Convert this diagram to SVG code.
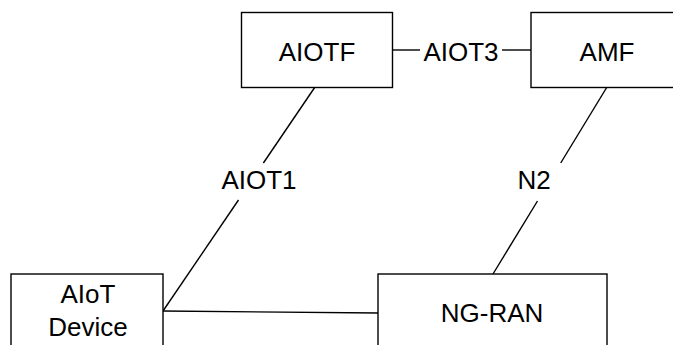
<svg xmlns="http://www.w3.org/2000/svg" width="673" height="345" viewBox="0 0 673 345">
<style>
.box{fill:#fff;stroke:#000;stroke-width:1.4}
.ln{stroke:#000;stroke-width:1.4;fill:none}
.t{font-family:"Liberation Sans",Arial,sans-serif;font-size:26px;fill:#000;text-anchor:middle}
</style>
<rect width="673" height="345" fill="#fff"/>
<g id="connectors">
<line class="ln" x1="392" y1="50" x2="420" y2="50"/>
<line class="ln" x1="502" y1="50" x2="531" y2="50"/>
<text class="t" x="461" y="61">AIOT3</text>
<line class="ln" x1="315" y1="87" x2="263.4" y2="163"/>
<line class="ln" x1="238.5" y1="200" x2="163" y2="311"/>
<text class="t" x="259" y="189">AIOT1</text>
<line class="ln" x1="607" y1="87" x2="560.7" y2="163"/>
<line class="ln" x1="537.5" y1="201" x2="493" y2="274"/>
<text class="t" x="534" y="189">N2</text>
<line class="ln" x1="163" y1="311" x2="378" y2="313"/>
</g>
<g id="aiotf">
<rect class="box" x="241.5" y="12.5" width="151" height="75"/>
<text class="t" x="317" y="61">AIOTF</text>
</g>
<g id="amf">
<rect class="box" x="531" y="12.5" width="160" height="75"/>
<text class="t" x="607" y="61">AMF</text>
</g>
<g id="aiot-device">
<rect class="box" x="11" y="274" width="152" height="90"/>
<text class="t" x="88" y="303">AIoT</text>
<text class="t" x="88" y="336">Device</text>
</g>
<g id="ng-ran">
<rect class="box" x="378" y="274" width="229" height="90"/>
<text class="t" x="492" y="322">NG-RAN</text>
</g>
</svg>
